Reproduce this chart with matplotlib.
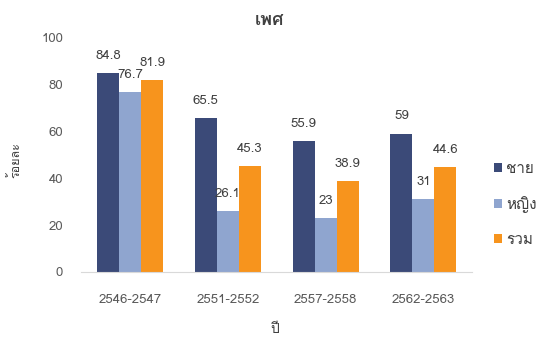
import matplotlib
matplotlib.use("Agg")
import matplotlib.pyplot as plt
from matplotlib import font_manager, ft2font
import numpy as np

periods = ["2546-2547", "2551-2552", "2557-2558", "2562-2563"]
male = [84.8, 65.5, 55.9, 59]
female = [76.7, 26.1, 23, 31]
total = [81.9, 45.3, 38.9, 44.6]
series_names = ["ชาย", "หญิง", "รวม"]


def find_thai_font():
    for f in font_manager.fontManager.ttflist:
        try:
            cmap = ft2font.FT2Font(f.fname).get_charmap()
        except Exception:
            continue
        if 0x0E40 in cmap and 0x0E1E in cmap and 0x0E28 in cmap:
            return f.name
    return None


thai = find_thai_font()
fams = [thai, "DejaVu Sans"] if thai else ["DejaVu Sans"]
plt.rcParams["font.family"] = fams

colors = ["#3b4a78", "#8fa5cf", "#f7941d"]
txt = "#404040"

fig = plt.figure(figsize=(5.38, 3.40), dpi=100)
ax = fig.add_axes([0.151, 0.2, 0.727, 0.69])

x = np.arange(len(periods))
w = 0.225
for i, (vals, c, name) in enumerate(zip([male, female, total], colors, series_names)):
    bars = ax.bar(x + (i - 1) * w, vals, width=w, color=c, label=name)
    for b, v in zip(bars, vals):
        ax.annotate(f"{v:g}", (b.get_x() + b.get_width() / 2, v),
                    xytext=(0, 8), textcoords="offset points",
                    ha="center", va="bottom", fontsize=9.5, color=txt)

ax.set_xlim(-0.5, len(periods) - 0.5)
ax.set_ylim(0, 100)
ax.set_yticks([0, 20, 40, 60, 80, 100])
ax.set_xticks(x)
ax.set_xticklabels(periods)
ax.tick_params(length=0, labelsize=9.5, colors="#595959")
ax.tick_params(axis="x", pad=16)
ax.tick_params(axis="y", pad=13)
for s in ["top", "right", "left"]:
    ax.spines[s].set_visible(False)
ax.spines["bottom"].set_color("#d9d9d9")
ax.spines["bottom"].set_linewidth(0.8)

fig.text(0.5, 1 - 20 / 340, "เพศ", ha="center", va="center",
         fontsize=13, fontweight="bold", color=txt)
fig.text(15 / 538, 1 - 160 / 340, "ร้อยละ", ha="center", va="center",
         rotation=90, fontsize=9, color=txt)
fig.text(275 / 538, 1 - 330 / 340, "ปี", ha="center", va="center",
         fontsize=10, color=txt)

fig.legend(loc="upper left", bbox_to_anchor=(494 / 538, 1 - 162 / 340),
           frameon=False, fontsize=11, handlelength=0.5, handleheight=0.5,
           labelspacing=1.3, handletextpad=0.3, borderpad=0, borderaxespad=0,
           labelcolor=txt)

fig.savefig("out.png", dpi=100)
